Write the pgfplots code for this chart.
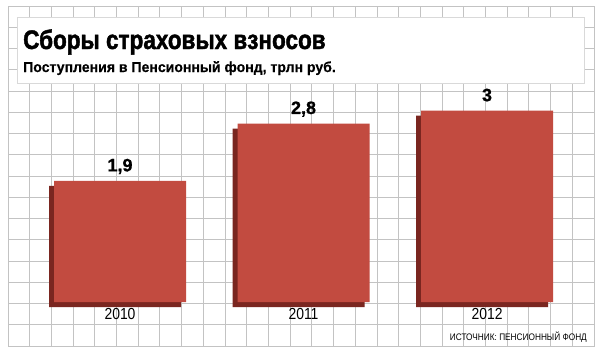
\documentclass[border=0pt]{standalone}
\usepackage{pgfplots}
\pgfplotsset{compat=1.18}
\usepackage{fontspec}
\setmainfont{Liberation Sans}
\newfontfamily\condfont{Liberation Sans}[FakeStretch=0.87]
\newfontfamily\titlefont{Liberation Sans Bold}[FakeStretch=0.84, FakeBold=1.6]
\newfontfamily\subfont{Liberation Sans Bold}[FakeStretch=0.97, FakeBold=0.4]
\newfontfamily\valfont{Liberation Sans Bold}[FakeBold=0.8]
\definecolor{barred}{RGB}{194,75,64}
\definecolor{bardark}{RGB}{122,38,32}
\definecolor{gridgray}{RGB}{195,195,195}
\begin{document}
\begin{tikzpicture}[x=1bp,y=1bp]
\path[use as bounding box, fill=white] (0,0) rectangle (603,353);
% background grid
\begin{axis}[at={(8bp,7bp)}, anchor=south west, scale only axis,
  width=586bp, height=340bp,
  xmin=0, xmax=27, ymin=0, ymax=16,
  xtick={0,...,27}, ytick={0,...,16},
  xticklabels={}, yticklabels={},
  major tick length=0pt,
  grid=major,
  major grid style={gridgray, line width=0.9bp},
  axis line style={gridgray, line width=0.9bp}]
\addplot[draw=none] coordinates {(0,0)};
\end{axis}
% title box
\draw[gray!30, fill=white, line width=0.8bp] (17,270) rectangle (584,336);
% data
\begin{axis}[at={(8bp,7bp)}, anchor=south west, scale only axis,
  width=586bp, height=340bp,
  xmin=-0.6104, xmax=2.5831, ymin=-0.690, ymax=4.643,
  axis line style={draw=none},
  major tick length=0pt,
  ytick=\empty,
  xtick={0,1,2}, xticklabels={2010,2011,2012},
  xticklabel style={font=\condfont\fontsize{16bp}{16bp}\selectfont, anchor=base, yshift=27bp},
  clip=false]
\addplot[ybar, bar width=132bp, bar shift=0pt, fill=bardark, draw=none, xshift=-5bp, yshift=-5bp]
  coordinates {(0,1.9) (1,2.8) (2,3)};
\addplot[ybar, bar width=132bp, bar shift=0pt, fill=barred, draw=none,
  point meta=explicit symbolic, nodes near coords,
  every node near coord/.append style={font=\valfont\fontsize{18bp}{18bp}\selectfont, anchor=base, yshift=9.5bp, inner sep=0pt, text=black}]
  coordinates {(0,1.9) [{1,9}] (1,2.8) [{2,8}] (2,3) [3]};
\end{axis}
\node[anchor=base west, inner sep=0, font=\titlefont\fontsize{26.8bp}{26.8bp}\selectfont] at (23,304) {Сборы страховых взносов};
\node[anchor=base west, inner sep=0, font=\subfont\fontsize{14.5bp}{14.5bp}\selectfont] at (23,281) {Поступления в Пенсионный фонд, трлн руб.};
\node[anchor=base east, inner sep=0, font=\condfont\fontsize{9.5bp}{9.5bp}\selectfont] at (587,13) {ИСТОЧНИК: ПЕНСИОННЫЙ ФОНД};
\end{tikzpicture}
\end{document}
